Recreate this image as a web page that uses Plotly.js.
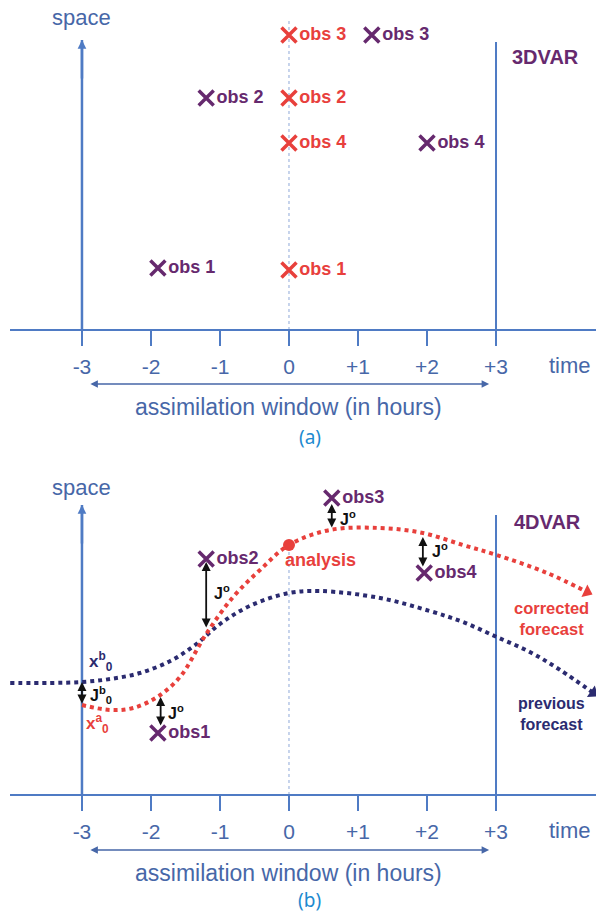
<!DOCTYPE html>
<html><head><meta charset="utf-8">
<script src="https://cdn.plot.ly/plotly-3.0.1.min.js"></script>
<style>html,body{margin:0;padding:0;background:#fff}</style>
</head><body><div id="chart" style="width:596px;height:915px"></div>
<script>
// ---- data ----
const tickVals = [-3, -2, -1, 0, 1, 2, 3];
const tickText = ['-3', '-2', '-1', '0', '+1', '+2', '+3'];
const obsLabelsA = ['obs 1', 'obs 2', 'obs 3', 'obs 4'];
// 3DVAR: observations at their true times (purple) and all assigned to t=0 (red)
const obsTimeTrue = [-1.9, -1.2, 1.2, 2.0];
const obsSpaceTrueA = [6.2, 23.2, 29.5, 18.7];
const obsTime3D = [0, 0, 0, 0];
const obsSpace3D = [6.0, 23.2, 29.5, 18.7];
// 4DVAR
const obsLabelsB = ['obs1', 'obs2', 'obs3', 'obs4'];
const obsTimeB = [-1.90, -1.20, 0.62, 1.96];
const obsSpaceB = [6.2, 23.6, 29.7, 22.2];
const prevT = [-4.04, -3.46, -3.0, -2.59, -2.16, -1.72, -1.36, -1.0, -0.57, 0.0, 0.45, 1.32, 2.04, 2.52, 3.01, 3.49, 3.93, 4.41];
const prevS = [11.2, 11.2, 11.3, 11.6, 12.2, 13.4, 15.0, 17.1, 18.9, 20.2, 20.4, 19.7, 18.4, 17.3, 15.8, 14.3, 12.5, 10.2];
const corrT = [-3.0, -2.59, -2.26, -1.91, -1.58, -1.20, -0.81, -0.42, 0.0, 0.59, 1.32, 1.94, 2.52, 3.01, 3.74, 4.32];
const corrS = [9.0, 8.5, 8.7, 9.8, 11.8, 16.1, 19.8, 22.5, 25.0, 26.5, 26.7, 26.2, 25.0, 24.0, 22.2, 20.3];
const analysisT = [0.0];
const analysisS = [25.0];
// J^o distances: [time, obs space, model space]
const jT = [-1.86, -1.20, 0.62, 1.94];
const jTop = [9.8, 23.3, 29.1, 25.8];
const jBot = [6.8, 16.6, 26.6, 22.7];
const jbT = -3.0, jbTop = 11.3, jbBot = 9.0;

// ---- styles ----
const AX = '#4f7bc4', AXT = '#4767a8', RED = '#e8403c', PUR = '#66296e', NAVY = '#2b2b70';
const F = 'Liberation Sans, Arial, sans-serif';

function xax(pos) {
  return {domain: [10/596, 1], range: [-4.043, 4.449], anchor: 'free', position: pos,
    showline: true, linecolor: AX, linewidth: 2, ticks: 'outside', ticklen: 15, tickwidth: 2,
    tickcolor: AX, tickvals: tickVals, ticktext: tickText, ticklabelstandoff: 3,
    tickfont: {family: F, size: 21, color: AXT}, showgrid: false, zeroline: false, fixedrange: true};
}
const yd = 1 - 460/915;

function endMarker(T, S, color) {
  const n = T.length, dx = (T[n-1] - T[n-2]) * 69, dy = -(S[n-1] - S[n-2]) * 10;
  return {x: [T[n-1]], y: [S[n-1]], xaxis: 'x2', yaxis: 'y2', mode: 'markers', cliponaxis: false,
    marker: {symbol: 'triangle-right', size: 12, color: color, angle: Math.atan2(dy, dx) * 180 / Math.PI}};
}
const xMark = c => ({symbol: 'x-thin', size: 15, line: {width: 3.5, color: c}});
const traces = [
  {x: obsTime3D, y: obsSpace3D, xaxis: 'x', yaxis: 'y', mode: 'markers+text', text: obsLabelsA,
   textposition: 'middle right', textfont: {family: F, size: 18, color: RED, weight: 'bold'},
   marker: xMark(RED), cliponaxis: false},
  {x: obsTimeTrue, y: obsSpaceTrueA, xaxis: 'x', yaxis: 'y', mode: 'markers+text', text: obsLabelsA,
   textposition: 'middle right', textfont: {family: F, size: 18, color: PUR, weight: 'bold'},
   marker: xMark(PUR), cliponaxis: false},
  {x: prevT, y: prevS, xaxis: 'x2', yaxis: 'y2', mode: 'lines', line: {shape: 'spline', dash: '4px,4px', width: 4, color: NAVY}, cliponaxis: false},
  {x: corrT, y: corrS, xaxis: 'x2', yaxis: 'y2', mode: 'lines', line: {shape: 'spline', dash: '4px,4px', width: 4, color: RED}, cliponaxis: false},
  endMarker(prevT, prevS, NAVY),
  endMarker(corrT, corrS, RED),
  {x: analysisT, y: analysisS, xaxis: 'x2', yaxis: 'y2', mode: 'markers', marker: {size: 12, color: RED}},
  {x: obsTimeB, y: obsSpaceB, xaxis: 'x2', yaxis: 'y2', mode: 'markers+text', text: obsLabelsB,
   textposition: 'middle right', textfont: {family: F, size: 18, color: PUR, weight: 'bold'},
   marker: xMark(PUR), cliponaxis: false}
];

function vline(xr, yr, x, y0, y1, color, w, dash) {
  return {type: 'line', xref: xr, yref: yr, x0: x, x1: x, y0: y0, y1: y1, line: {color: color, width: w, dash: dash || 'solid'}, layer: 'below'};
}
const shapes = [
  vline('x', 'y', -3, 0, 29, AX, 2.5), vline('x', 'y', 3, 0, 28.8, AX, 2), vline('x', 'y', 0, 0, 31, '#8fa8d8', 1, 'dot'),
  vline('x2', 'y2', -3, 0, 29, AX, 2.5), vline('x2', 'y2', 3, 0, 28, AX, 2), vline('x2', 'y2', 0, 0, 24.5, '#8fa8d8', 1, 'dot')
];

function txt(xr, yr, x, y, text, size, color, bold, anchor, fam) {
  return {xref: xr, yref: yr, x: x, y: y, text: text, showarrow: false, xanchor: anchor || 'center', yanchor: 'middle',
    font: {family: fam || F, size: size, color: color, weight: bold ? 'bold' : 'normal'}};
}
function dbl(xr, yr, x, y0, y1, color, w) {
  return {xref: xr, yref: yr, x: x, y: y1, axref: xr, ayref: yr, ax: x, ay: y0, text: '', showarrow: true,
    arrowhead: 2, startarrowhead: 2, arrowside: 'end+start', arrowsize: 1, startarrowsize: 1, arrowwidth: w, arrowcolor: color, standoff: 0, startstandoff: 0};
}
const ann = [];
[['x', 'y', 31.3, -3.5, -5.4, -7.7, -10.7, '(a)', '3DVAR'], ['x2', 'y2', 30.8, -3.5, -5.5, -7.8, -10.5, '(b)', '4DVAR']].forEach(p => {
  const [xr, yr, sp, tm, ar, aw, lab, lt, title] = p;
  ann.push(txt(xr, yr, -3, sp, 'space', 22, AXT));
  ann.push(txt(xr, yr, 4.07, tm, 'time', 22, AXT));
  const a = dbl(xr, yr, 0, ar, ar, AXT, 1.5);
  a.x = 2.9; a.ax = -2.9; a.y = ar; a.ay = ar;
  ann.push(a);
  // small arrowhead at the top of the space axis
  ann.push({xref: xr, yref: yr, x: -3, y: 29, axref: xr, ayref: yr, ax: -3, ay: 25, text: '', showarrow: true,
    arrowhead: 2, arrowsize: 0.7, arrowwidth: 2.5, arrowcolor: AX, standoff: 0});
  ann.push(txt(xr, yr, 0, aw, 'assimilation window (in hours)', 23, AXT));
  ann.push(txt(xr, yr, 0.3, lab, lt, 19, '#1d8ad0', false, 'center', 'Noto Sans, sans-serif'));
  ann.push(txt(xr, yr, xr === 'x' ? 3.71 : 3.75, 27.3, title, 20, PUR, true));
});
// J^o arrows and labels
for (let i = 0; i < jT.length; i++) {
  ann.push(dbl('x2', 'y2', jT[i], jBot[i], jTop[i], '#111', 1.8));
}
ann.push(dbl('x2', 'y2', jbT, jbBot, jbTop, '#111', 1.8));
const jLab = [[-1.78, 8.3], [-1.12, 20.3], [0.71, 27.7], [2.04, 24.5]];
jLab.forEach(p => ann.push(txt('x2', 'y2', p[0], p[1], 'J<sup>o</sup>', 16, '#111', true, 'left')));
ann.push(txt('x2', 'y2', -2.91, 10.0, 'J<sup>b</sup><sub>0</sub>', 16, '#111', true, 'left'));
ann.push(txt('x2', 'y2', -2.93, 13.4, 'x<sup>b</sup><sub>0</sub>', 17, NAVY, true, 'left'));
ann.push(txt('x2', 'y2', -2.97, 7.2, 'x<sup>a</sup><sub>0</sub>', 17, RED, true, 'left'));
ann.push(txt('x2', 'y2', 0.45, 23.5, 'analysis', 18, RED, true));
ann.push(txt('x2', 'y2', 3.81, 17.7, 'corrected<br>forecast', 16.5, RED, true));
ann.push(txt('x2', 'y2', 3.80, 8.1, 'previous<br>forecast', 16, NAVY, true));

const layout = {
  width: 596, height: 915, margin: {l: 0, r: 0, t: 0, b: 0}, paper_bgcolor: '#fff', plot_bgcolor: 'rgba(0,0,0,0)',
  showlegend: false, font: {family: F},
  xaxis: xax(1 - 330/915), yaxis: {domain: [yd, 1], range: [-13, 33], visible: false, fixedrange: true},
  xaxis2: xax(1 - 795/915), yaxis2: {domain: [0, yd], range: [-12, 33.5], visible: false, fixedrange: true},
  shapes: shapes, annotations: ann
};
Plotly.newPlot('chart', traces, layout, {staticPlot: true, displayModeBar: false});
</script></body></html>
